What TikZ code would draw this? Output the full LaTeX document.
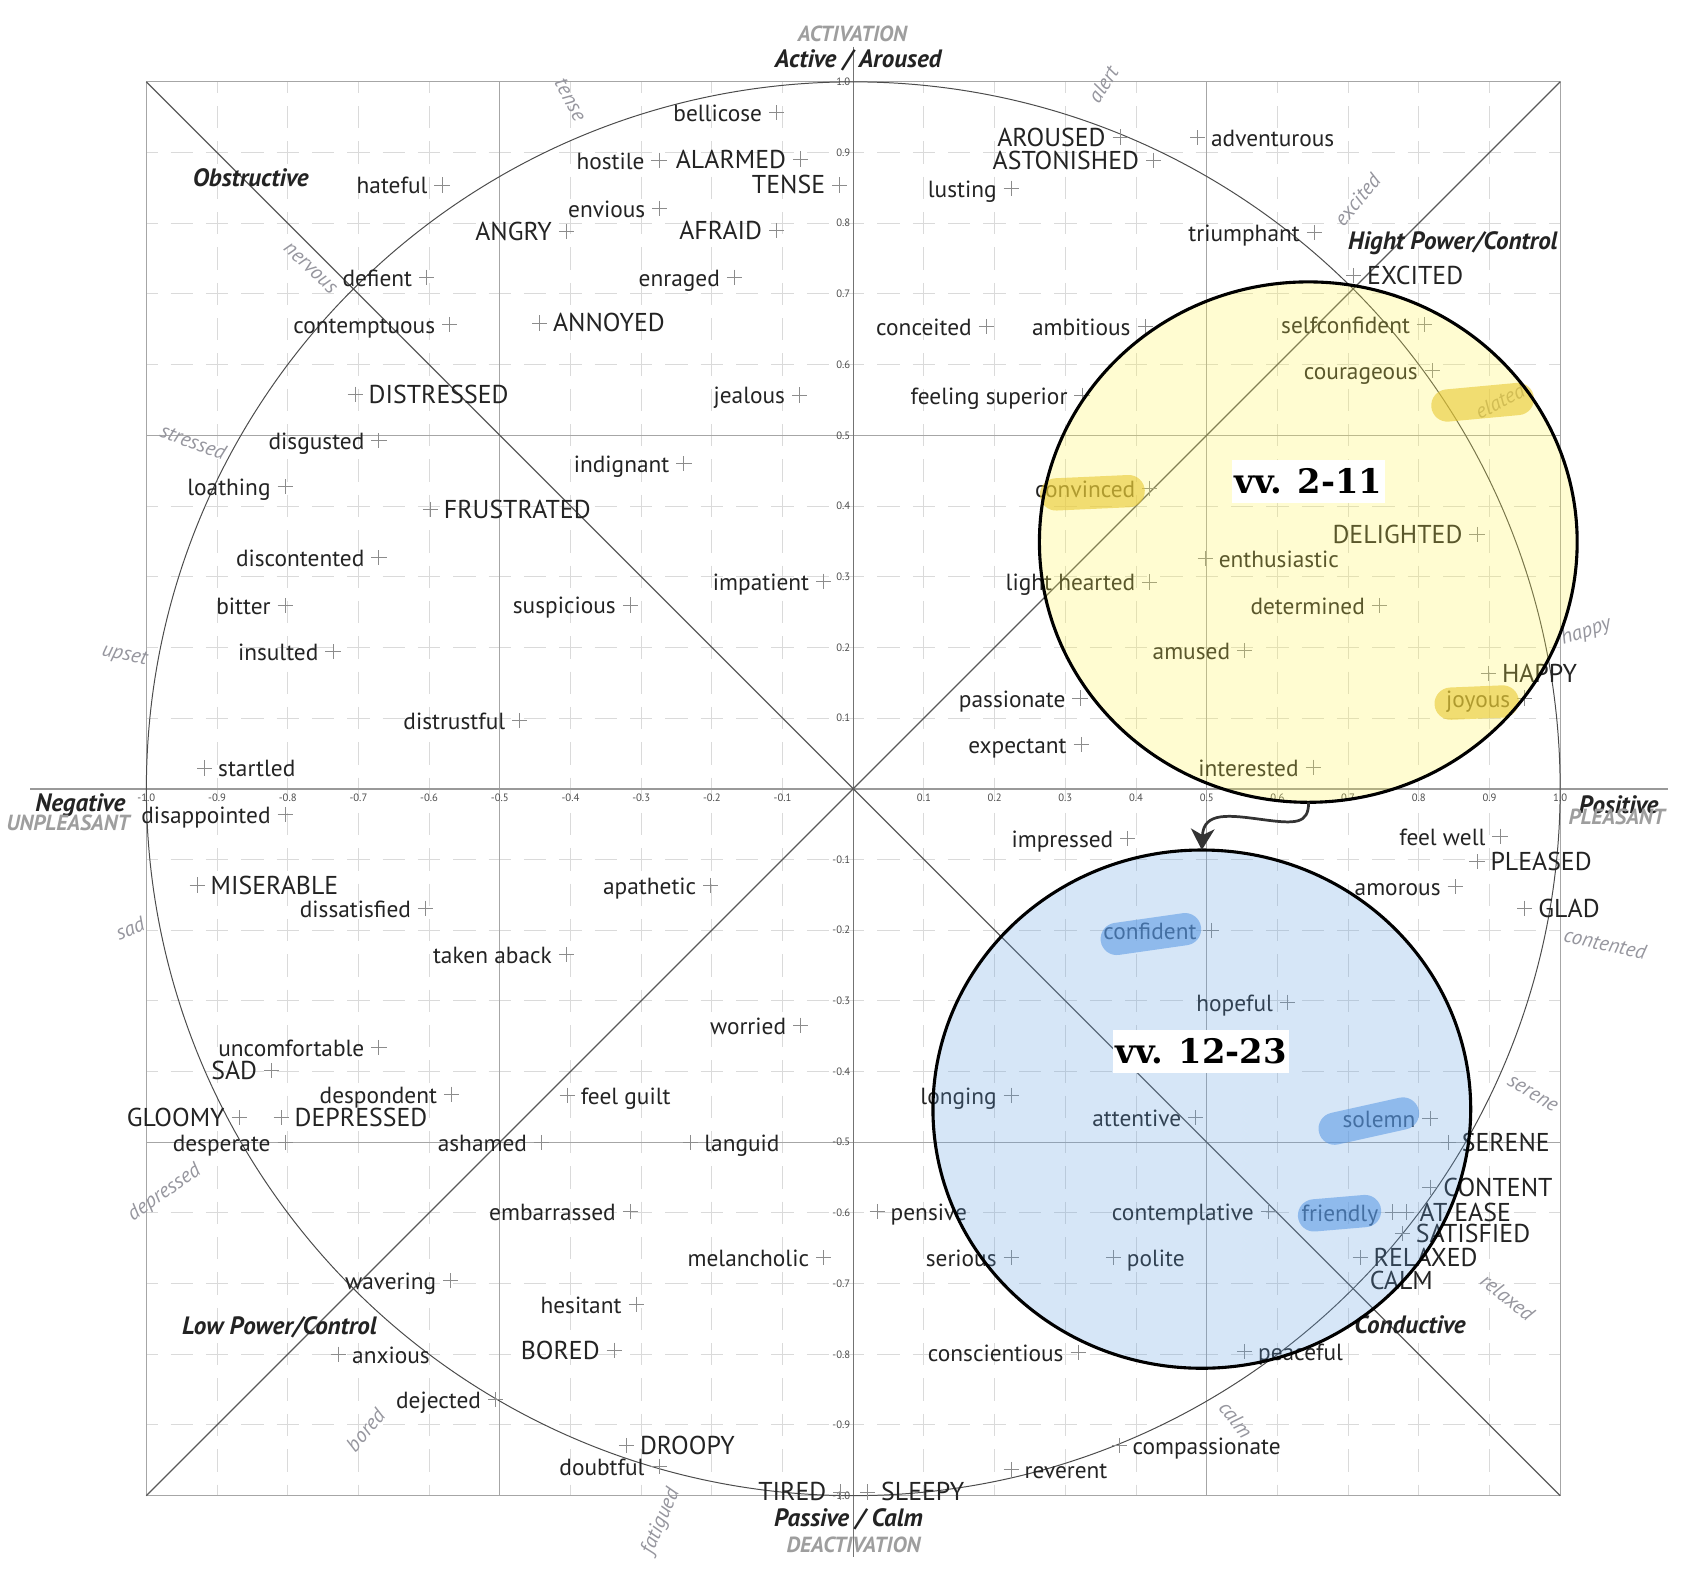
\documentclass[tikz,border=0pt]{standalone}
\usepackage{fontspec}
\setmainfont{PT Sans}
\newfontfamily\vvfont{DejaVu Serif}
\usetikzlibrary{calc,arrows.meta}
\definecolor{ink}{RGB}{35,35,35}
\definecolor{ylwfill}{RGB}{255,244,70}
\definecolor{bluefill}{RGB}{92,156,224}
\definecolor{ylwhl}{RGB}{232,200,50}
\definecolor{bluehl}{RGB}{85,150,228}
\definecolor{gridc}{RGB}{218,218,218}
\definecolor{glabc}{RGB}{150,150,158}
\tikzset{
 lw/.style={font=\fontsize{9.4}{11}\selectfont, text=ink, inner sep=0pt},
 capw/.style={font=\fontsize{10.4}{12}\selectfont, text=ink, inner sep=0pt},
 plusmark/.style={draw=black!45, line width=0.35pt},
 gl/.style={font=\fontsize{8.4}{10}\selectfont\itshape, text=glabc, inner sep=0pt},
 bl/.style={font=\fontsize{10.1}{12}\selectfont\bfseries\itshape, text=ink, inner sep=0pt},
 gbl/.style={font=\fontsize{8.8}{10}\selectfont\bfseries\itshape, text=black!38, inner sep=0pt},
 tick/.style={font=\fontsize{4.3}{5}\selectfont, text=black!70, inner sep=0.8pt},
 gridline/.style={draw=gridc, line width=0.4pt, dash pattern=on 9pt off 5.23pt, dash phase=4.5pt},
 halfline/.style={draw=black!35, line width=0.4pt},
 frame/.style={draw=black!35, line width=0.45pt},
 haxis/.style={draw=black!40, line width=0.8pt},
 vaxis/.style={draw=black!55, line width=0.5pt},
 diag/.style={draw=black!65, line width=0.45pt},
 unitcircle/.style={draw=black!70, line width=0.4pt},
 yhl/.style={draw=ylwhl, draw opacity=0.6, line width=13pt, line cap=round},
 bhl/.style={draw=bluehl, draw opacity=0.55, line width=13pt, line cap=round},
 outline/.style={draw=black, line width=1.25pt},
 arrowc/.style={draw=black!80, line width=1.1pt, -{Stealth[length=8.5pt,width=9.5pt,inset=2.5pt]}},
 vv/.style={fill=white, font=\vvfont\bfseries\fontsize{13.6}{15}\selectfont, text=black, inner xsep=1pt, minimum height=17.5pt},
}
\newcommand\wordL[5][lw]{%
  \coordinate (#2) at (#3,#4);
  \draw[plusmark] (#2) +(-7,0) -- +(7,0) +(0,-7) -- +(0,7);
  \node[#1, anchor=base east] (#2-t) at ($(#2)+(-13,8.3)$) {#5};}
\newcommand\wordR[5][lw]{%
  \coordinate (#2) at (#3,#4);
  \draw[plusmark] (#2) +(-7,0) -- +(7,0) +(0,-7) -- +(0,7);
  \node[#1, anchor=base west] (#2-t) at ($(#2)+(12,8.3)$) {#5};}
\newcommand\glab[5]{\node[gl, rotate=#5] (#1) at (#2,#3) {#4};}
\begin{document}
\begin{tikzpicture}[x=0.4365pt,y=-0.4365pt]
\useasboundingbox (0,0) rectangle (1568,1452);
% grid
\foreach \k in {-9,-8,-7,-6,-4,-3,-2,-1,1,2,3,4,6,7,8,9}{
  \draw[gridline] ({787+65.2*\k},75.5) -- ({787+65.2*\k},1379.5);
  \draw[gridline] (135,{727.5-65.2*\k}) -- (1439,{727.5-65.2*\k});
}
\draw[halfline] (461,75.5) -- (461,1379.5) (1113,75.5) -- (1113,1379.5)
                (135,401.5) -- (1439,401.5) (135,1053.5) -- (1439,1053.5);
\draw[frame] (135,75.5) rectangle (1439,1379.5);
\draw[haxis] (28,727.5) -- (1538,727.5);
\draw[vaxis] (787,43) -- (787,1436);
\draw[diag] (135,75.5) -- (1439,1379.5) (135,1379.5) -- (1439,75.5);
\draw[unitcircle] (787,727.5) circle [radius=652];
% ticks
\foreach \k/\t in {1/0.1,2/0.2,3/0.3,4/0.4,5/0.5,6/0.6,7/0.7,8/0.8,9/0.9,10/1.0}{
  \node[tick,anchor=north] (hp\k) at ({787+65.2*\k},729.5) {\t};
  \node[tick,anchor=north] (hn\k) at ({787-65.2*\k},729.5) {-\t};
  \node[tick,anchor=east] (vp\k) at (786.5,{727.5-65.2*\k}) {\t};
  \node[tick,anchor=east] (vn\k) at (786.5,{727.5+65.2*\k}) {-\t};
}
% top-left
\wordL{bellicose}{716.3}{103.9}{bellicose}
\wordL{hostile}{607.9}{147.7}{hostile}
\wordL[capw]{alarmed}{738.5}{146.7}{ALARMED}
\wordL[capw]{tenseW}{774.5}{170.6}{TENSE}
\wordL{envious}{608.6}{192.2}{envious}
\wordL[capw]{angry}{522.4}{213.4}{ANGRY}
\wordL[capw]{afraid}{716.3}{212.8}{AFRAID}
\wordL{hateful}{407.7}{170.6}{hateful}
\wordL{defient}{393.6}{255.7}{defient}
\wordL{enraged}{677.4}{255.7}{enraged}
\wordL{contemptuous}{414.8}{299.2}{contemptuous}
\wordR[capw]{annoyed}{497.7}{297.9}{ANNOYED}
\wordR[capw]{distressed}{327.6}{363.7}{DISTRESSED}
\wordL{jealous}{737.5}{364.3}{jealous}
\wordL{disgusted}{349.5}{406.5}{disgusted}
\wordL{loathing}{263}{448.8}{loathing}
\wordL{indignant}{630.8}{427.8}{indignant}
\wordR[capw]{frustrated}{397}{470}{FRUSTRATED}
\wordL{discontented}{349.5}{514.5}{discontented}
\wordL{impatient}{759.7}{536.1}{impatient}
\wordL{bitter}{263}{558.4}{bitter}
\wordL{suspicious}{581.4}{558}{suspicious}
\wordL{insulted}{307.1}{601.2}{insulted}
\wordL{distrustful}{479.4}{664.8}{distrustful}
\wordR{startled}{188.8}{708.3}{startled}
% top-right
\wordL[capw]{aroused}{1033.2}{126.4}{AROUSED}
\wordL[capw]{astonished}{1064}{147.7}{ASTONISHED}
\wordR{adventurous}{1104.6}{127}{adventurous}
\wordL{lusting}{932.7}{173.7}{lusting}
\wordL{triumphant}{1212.3}{214.4}{triumphant}
\wordR[capw]{excitedW}{1248.6}{254}{EXCITED}
\wordL{conceited}{909.7}{301.1}{conceited}
\wordL{ambitious}{1056.2}{301}{ambitious}
\wordL{selfconfident}{1313.9}{299.5}{selfconfident}
\wordL{courageous}{1321}{342}{courageous}
\wordL{superior}{998}{364.6}{feeling superior}
\wordL{convinced}{1060.5}{450.4}{convinced}
\wordL[capw]{delighted}{1362.3}{493}{DELIGHTED}
\wordR{enthusiastic}{1111.7}{515.5}{enthusiastic}
\wordL{lighthearted}{1060.5}{536.8}{light hearted}
\wordL{determined}{1272.3}{558.4}{determined}
\wordL{amused}{1148}{600.3}{amused}
\wordR[capw]{happyW}{1372.9}{620.9}{HAPPY}
\wordL{passionate}{996.2}{643.8}{passionate}
\wordL{joyous}{1406.4}{643.8}{joyous}
\wordL{expectant}{997.2}{686.7}{expectant}
\wordL{interested}{1211.2}{707.6}{interested}
% bottom-left
\wordL{disappointed}{263}{751.2}{disappointed}
\wordR[capw]{miserable}{181.8}{816.3}{MISERABLE}
\wordL{dissatisfied}{392.5}{837.6}{dissatisfied}
\wordL{apathetic}{655.6}{816.9}{apathetic}
\wordL{takenaback}{522.4}{880.4}{taken aback}
\wordL{worried}{738.5}{945.5}{worried}
\wordL{uncomfortable}{349.5}{966.2}{uncomfortable}
\wordL[capw]{sadW}{250.6}{987.7}{SAD}
\wordL{despondent}{416.5}{1009.3}{despondent}
\wordR{feelguilt}{523.2}{1010.2}{feel guilt}
\wordL[capw]{gloomy}{220.6}{1030.9}{GLOOMY}
\wordR[capw]{depressedW}{259.4}{1030.9}{DEPRESSED}
\wordL{desperate}{263}{1053.7}{desperate}
\wordL{ashamed}{499.5}{1053.7}{ashamed}
\wordR{languid}{637.2}{1053.7}{languid}
\wordL{embarrassed}{581.4}{1117.3}{embarrassed}
\wordL{melancholic}{759.7}{1160.1}{melancholic}
\wordL{wavering}{415.8}{1181.4}{wavering}
\wordL{hesitant}{586.7}{1203}{hesitant}
\wordR{anxious}{312.4}{1249.1}{anxious}
\wordL[capw]{boredW}{566.6}{1245.3}{BORED}
\wordL{dejected}{457.1}{1291}{dejected}
\wordR[capw]{droopy}{577.9}{1333.2}{DROOPY}
\wordL{doubtful}{607.9}{1352.3}{doubtful}
\wordL[capw]{tired}{775.6}{1376.1}{TIRED}
\wordR[capw]{sleepy}{800.3}{1376.1}{SLEEPY}
% bottom-right
\wordL{impressed}{1040.3}{773.4}{impressed}
\wordL{feelwell}{1383.5}{771.2}{feel well}
\wordR[capw]{pleased}{1362.3}{794.7}{PLEASED}
\wordL{amorous}{1342.2}{817.8}{amorous}
\wordR[capw]{glad}{1406.4}{837.6}{GLAD}
\wordL{confident}{1117}{858.2}{confident}
\wordL{hopeful}{1187.6}{924.3}{hopeful}
\wordL{longing}{932.7}{1010.2}{longing}
\wordL{attentive}{1102.9}{1030.9}{attentive}
\wordL{solemn}{1318.9}{1031.5}{solemn}
\wordR[capw]{sereneW}{1335.8}{1053.7}{SERENE}
\wordR[capw]{content}{1318.9}{1095}{CONTENT}
\wordR{pensive}{809.1}{1117.3}{pensive}
\wordL{contemplative}{1169.9}{1117.3}{contemplative}
\wordL{friendly}{1284.6}{1117.9}{friendly}
\wordR[capw]{atease}{1297}{1117.9}{AT EASE}
\wordR[capw]{satisfied}{1293.5}{1138}{SATISFIED}
\wordL{serious}{932.7}{1160.1}{serious}
\wordR{polite}{1027}{1160.1}{polite}
\wordR[capw]{relaxedW}{1254.6}{1160.1}{RELAXED}
\node[capw, anchor=base west] (calmW) at (1263,1189.5) {CALM};
\wordL{conscientious}{994.4}{1247.5}{conscientious}
\wordR{peaceful}{1148}{1246.5}{peaceful}
\wordR{compassionate}{1032.2}{1333.2}{compassionate}
\wordR{reverent}{932.7}{1355.5}{reverent}
% gray circle labels
\glab{g-tense}{526}{92}{tense}{-62}
\glab{g-alert}{1017.4}{77.8}{alert}{58}
\glab{g-excited}{1251.8}{184.2}{excited}{50}
\glab{g-elated}{1383.5}{370}{elated}{27}
\glab{g-happy}{1462.9}{582.8}{happy}{18}
\glab{g-contented}{1480.5}{870.3}{contented}{-12}
\glab{g-serene}{1413.5}{1009.3}{serene}{-31}
\glab{g-relaxed}{1390.5}{1196.7}{relaxed}{-39}
\glab{g-calm}{1139.9}{1309.4}{calm}{-52}
\glab{g-fatigued}{609.7}{1403.1}{fatigued}{67}
\glab{g-bored}{337.1}{1319}{bored}{50}
\glab{g-depressed}{151.8}{1100.4}{depressed}{35}
\glab{g-sad}{120}{856}{sad}{22}
\glab{g-upset}{114.7}{605}{upset}{-13}
\glab{g-stressed}{178.3}{407.5}{stressed}{-20}
\glab{g-nervous}{286}{247.7}{nervous}{-43}
% bold labels
\node[bl] (obstructive) at (231.2,163.6) {Obstructive};
\node[bl] (highpower) at (1340,224.6) {Hight Power/Control};
\node[bl] (lowpower) at (257.7,1224.6) {Low Power/Control};
\node[bl] (conductive) at (1300.5,1222.1) {Conductive};
\node[bl] (negative) at (74.1,742.3) {Negative};
\node[gbl] (unpleasant) at (62.8,759.1) {UNPLEASANT};
\node[bl] (positive) at (1492.9,742.6) {Positive};
\node[gbl] (pleasant) at (1491.1,753.4) {PLEASANT};
\node[gbl] (activation) at (786.2,31.1) {ACTIVATION};
\node[bl] (active) at (791.5,55.6) {Active / Aroused};
\node[bl] (passive) at (782.6,1401.5) {Passive / Calm};
\node[gbl] (deactivation) at (787.2,1425.3) {DEACTIVATION};
% overlays
\fill[ylwfill, fill opacity=0.25] (1206.7,500) ellipse [x radius=248, y radius=240];
\fill[bluefill, fill opacity=0.25] (1108.5,1023) ellipse [x radius=248, y radius=239];
\draw[yhl] (1335,374) -- (1400,368);
\draw[yhl] (974,456) -- (1041,453);
\draw[yhl] (1338,649) -- (1386,647);
\draw[bhl] (1030,866) -- (1093,857);
\draw[bhl] (1231,1041) -- (1294,1027);
\draw[bhl] (1212,1121) -- (1259,1117);
\draw[outline] (1206.7,500) ellipse [x radius=248, y radius=240];
\draw[outline] (1108.5,1023) ellipse [x radius=248, y radius=239];
\coordinate (ybot) at (1207,740);
\coordinate (btop) at (1108.5,784);
\draw[arrowc] (ybot) .. controls (1207,760) and (1195,760) .. (1165,756)
   .. controls (1135,752) and (1110,748) .. (btop);
\node[vv] (vv1) at (1206.8,444) {vv. 2-11};
\node[vv] (vv2) at (1108,970) {vv. 12-23};
\end{tikzpicture}
\end{document}
